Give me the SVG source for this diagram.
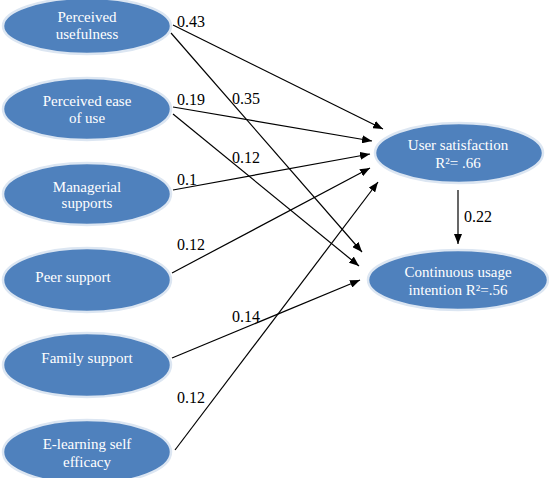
<svg xmlns="http://www.w3.org/2000/svg" width="549" height="478" viewBox="0 0 549 478">
<style>
.n{fill:#4f81bd;stroke:#dce6f2;stroke-width:2.5}
.c line{stroke:#000;stroke-width:1.2;marker-end:url(#a)}
</style>
<defs>
<marker id="a" viewBox="0 0 10 8" refX="10" refY="4" markerWidth="10" markerHeight="8" markerUnits="userSpaceOnUse" orient="auto"><path d="M0,0L10,4L0,8z" fill="#000"/></marker>
</defs>
<rect width="549" height="478" fill="#fff"/>
<g font-family="Liberation Serif, Times New Roman, serif" font-size="15" fill="#fff" text-anchor="middle">
<g id="pu"><ellipse class="n" cx="87" cy="26" rx="84" ry="28"/><text x="87" y="22">Perceived</text><text x="87" y="39">usefulness</text></g>
<g id="peou"><ellipse class="n" cx="87" cy="109" rx="84" ry="31"/><text x="87" y="106">Perceived ease</text><text x="87" y="123">of use</text></g>
<g id="ms"><ellipse class="n" cx="87" cy="194" rx="84" ry="31"/><text x="87" y="192">Managerial</text><text x="87" y="208">supports</text></g>
<g id="ps"><ellipse class="n" cx="87" cy="280" rx="84" ry="32"/><text x="73" y="282">Peer support</text></g>
<g id="fs"><ellipse class="n" cx="87" cy="365" rx="84" ry="32"/><text x="87" y="363">Family support</text></g>
<g id="es"><ellipse class="n" cx="87" cy="452" rx="84" ry="32"/><text x="87" y="449">E-learning self</text><text x="87" y="467">efficacy</text></g>
<g id="us"><ellipse class="n" cx="459" cy="153" rx="84" ry="30"/><text x="458" y="150">User satisfaction</text><text x="458" y="168">R²= .66</text></g>
<g id="cui"><ellipse class="n" cx="458" cy="280" rx="90" ry="30"/><text x="458" y="277">Continuous usage</text><text x="458" y="295">intention R²=.56</text></g>
</g>
<g class="c" id="connectors">
<line x1="173" y1="25" x2="383" y2="129"/>
<line x1="171" y1="33" x2="362" y2="252"/>
<line x1="173" y1="107" x2="372" y2="141"/>
<line x1="173" y1="114" x2="359" y2="266"/>
<line x1="173" y1="190" x2="370" y2="154"/>
<line x1="172" y1="273" x2="370" y2="168"/>
<line x1="172" y1="358" x2="360" y2="280"/>
<line x1="175" y1="450" x2="378" y2="182"/>
<line x1="458" y1="190" x2="458" y2="244"/>
</g>
<g id="labels" font-family="Liberation Serif, Times New Roman, serif" font-size="16" fill="#000">
<text x="177" y="27">0.43</text>
<text x="177" y="105">0.19</text>
<text x="232" y="104">0.35</text>
<text x="232" y="163">0.12</text>
<text x="177" y="185">0.1</text>
<text x="177" y="250">0.12</text>
<text x="232" y="322">0.14</text>
<text x="177" y="403">0.12</text>
<text x="464" y="222">0.22</text>
</g>
</svg>
